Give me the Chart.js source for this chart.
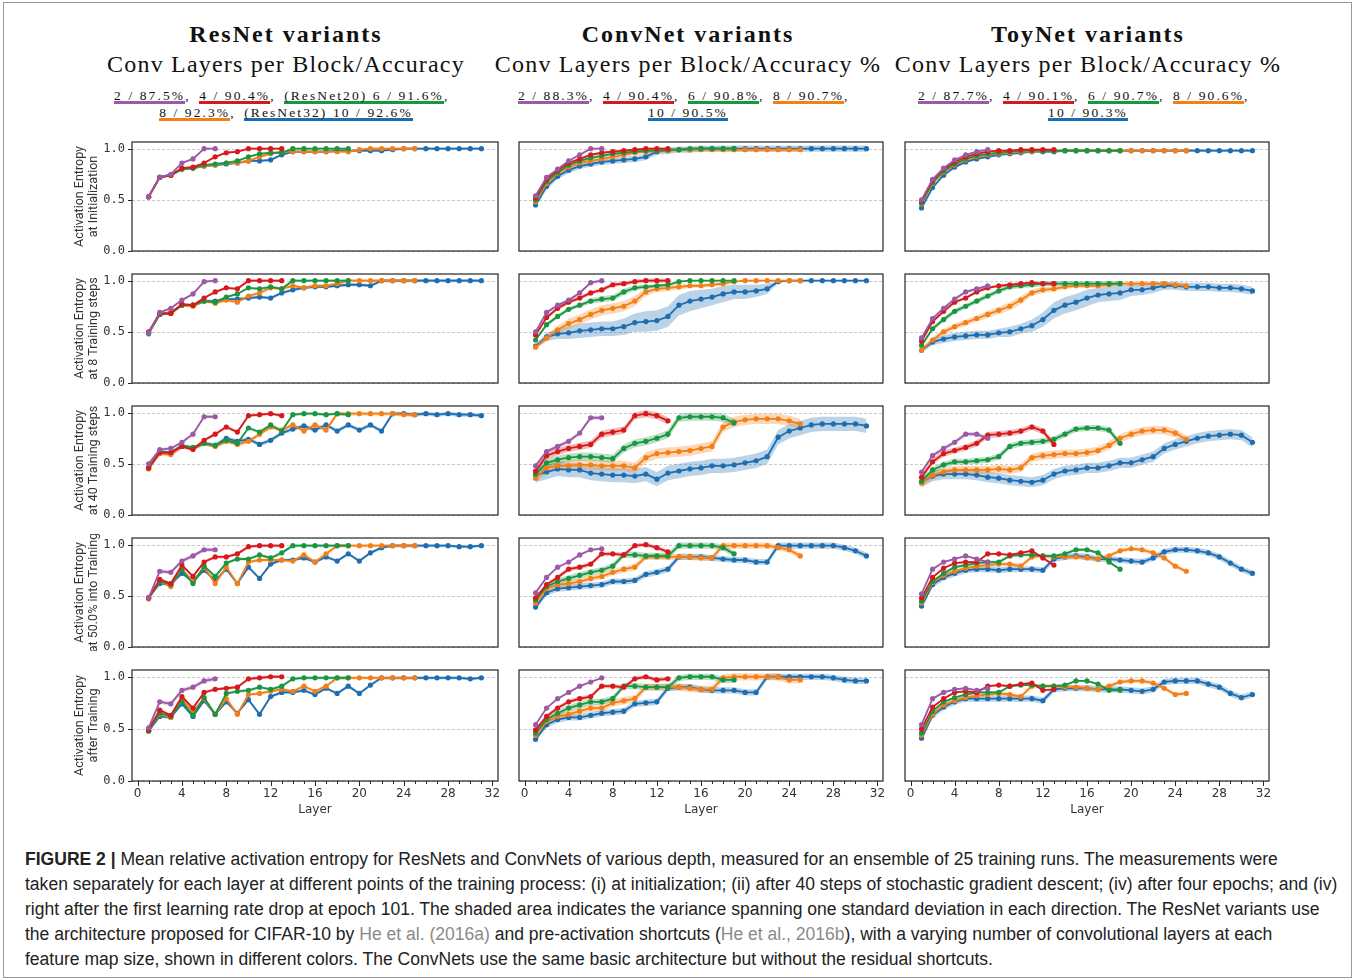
<!DOCTYPE html>
<html>
<head>
<meta charset="utf-8">
<script src="https://cdn.jsdelivr.net/npm/chart.js@4.4.1/dist/chart.umd.min.js"></script>
<style>
  body { margin: 0; background: #fff; }
  #fig { position: relative; width: 1356px; height: 980px; overflow: hidden; }
  .frame { position: absolute; left: 3px; top: 2px; width: 1347px; height: 974px; border: 1px solid #9a9a9a; }
  .hdr { position: absolute; width: 600px; text-align: center; font-family: "Liberation Serif", serif; color: #111; white-space: nowrap; }
  .t1 { font-size: 24px; font-weight: bold; letter-spacing: 2px; line-height: 30px; }
  .t2 { font-size: 24px; letter-spacing: 1.2px; line-height: 30px; }
  .leg { font-size: 13.5px; letter-spacing: 2.1px; line-height: 13px; }
  .leg span.item { display: inline-block; border-bottom: 3px solid; padding-bottom: 0px; line-height: 11px; }
  .leg span.sep { display: inline-block; width: 14px; text-align: left; letter-spacing: 0; }
  canvas { position: absolute; }
  .cap { position: absolute; left: 25px; top: 847px; font-family: "Liberation Sans", Arial, sans-serif; font-size: 17.55px; line-height: 25px; color: #222; white-space: nowrap; }
  .cap b { font-weight: bold; }
  .cap .ref { color: #8a8a8a; }
</style>
</head>
<body>
<div id="fig">
  <div class="frame"></div>
  <div class="cap">
    <b>FIGURE 2 |</b> Mean relative activation entropy for ResNets and ConvNets of various depth, measured for an ensemble of 25 training runs. The measurements were<br>
    taken separately for each layer at different points of the training process: (i) at initialization; (ii) after 40 steps of stochastic gradient descent; (iv) after four epochs; and (iv)<br>
    right after the first learning rate drop at epoch 101. The shaded area indicates the variance spanning one standard deviation in each direction. The ResNet variants use<br>
    the architecture proposed for CIFAR-10 by <span class="ref">He et al. (2016a)</span> and pre-activation shortcuts (<span class="ref">He et al., 2016b</span>), with a varying number of convolutional layers at each<br>
    feature map size, shown in different colors. The ConvNets use the same basic architecture but without the residual shortcuts.
  </div>
</div>
<script>
// conv layers per block, one series each
const depths = [2, 4, 6, 8, 10];
const colors = ["#9b59a6", "#d7191c", "#1a9641", "#f47f17", "#1f6db1"];

const colTitles = ["ResNet variants", "ConvNet variants", "ToyNet variants"];
const colSubtitles = ["Conv Layers per Block/Accuracy", "Conv Layers per Block/Accuracy %", "Conv Layers per Block/Accuracy %"];
const resLegend = ["2 / 87.5%", "4 / 90.4%", "(ResNet20) 6 / 91.6%", "8 / 92.3%", "(ResNet32) 10 / 92.6%"];
const convLegend = ["2 / 88.3%", "4 / 90.4%", "6 / 90.8%", "8 / 90.7%", "10 / 90.5%"];
const toyLegend = ["2 / 87.7%", "4 / 90.1%", "6 / 90.7%", "8 / 90.6%", "10 / 90.3%"];
const legendBreak = [3, 4, 4];

const rowLabels = [
  ["Activation Entropy", "at Initialization"],
  ["Activation Entropy", "at 8 Training steps"],
  ["Activation Entropy", "at 40 Training steps"],
  ["Activation Entropy", "at 50.0% into Training"],
  ["Activation Entropy", "after Training"],
];
const xTicks = [0, 4, 8, 12, 16, 20, 24, 28, 32];
const yTicks = [0.0, 0.5, 1.0];

// ---- at initialization ----
const resInit = [
  [0.53, 0.72, 0.75, 0.86, 0.90, 1.00, 1.00],
  [0.53, 0.72, 0.74, 0.81, 0.82, 0.86, 0.92, 0.96, 0.97, 1.00, 1.00, 1.00, 1.00],
  [0.53, 0.72, 0.74, 0.80, 0.81, 0.84, 0.85, 0.86, 0.88, 0.92, 0.95, 0.96, 0.96, 1.00, 1.00, 1.00, 1.00, 1.00, 1.00],
  [0.53, 0.72, 0.74, 0.80, 0.81, 0.83, 0.84, 0.86, 0.86, 0.88, 0.92, 0.95, 0.97, 0.97, 0.97, 0.97, 0.97, 0.97, 0.97, 0.99, 1.00, 1.00, 1.00, 1.00, 1.00],
  [0.53, 0.72, 0.74, 0.80, 0.81, 0.83, 0.84, 0.85, 0.86, 0.88, 0.88, 0.89, 0.94, 0.97, 0.97, 0.97, 0.97, 0.98, 0.98, 0.98, 0.98, 0.98, 0.99, 1.00, 1.00, 1.00, 1.00, 1.00, 1.00, 1.00, 1.00],
];
const convInit = [
  [0.54, 0.72, 0.80, 0.88, 0.94, 1.00, 1.00],
  [0.52, 0.70, 0.79, 0.86, 0.90, 0.94, 0.96, 0.97, 0.98, 0.99, 1.00, 1.00, 1.00],
  [0.50, 0.68, 0.77, 0.84, 0.88, 0.91, 0.93, 0.95, 0.96, 0.97, 0.98, 0.98, 0.99, 0.99, 1.00, 1.00, 1.00, 1.00, 1.00],
  [0.48, 0.66, 0.76, 0.82, 0.86, 0.88, 0.90, 0.92, 0.94, 0.96, 0.97, 0.98, 0.98, 0.99, 0.99, 0.99, 0.99, 0.99, 0.99, 0.99, 0.99, 0.99, 0.99, 0.99, 0.99],
  [0.45, 0.63, 0.73, 0.79, 0.83, 0.85, 0.87, 0.88, 0.89, 0.90, 0.92, 0.97, 0.98, 0.99, 0.99, 1.00, 1.00, 1.00, 1.00, 1.00, 1.00, 1.00, 1.00, 1.00, 1.00, 1.00, 1.00, 1.00, 1.00, 1.00, 1.00],
];
const toyInit = [
  [0.50, 0.70, 0.81, 0.89, 0.94, 0.97, 0.99],
  [0.49, 0.69, 0.80, 0.87, 0.92, 0.95, 0.97, 0.98, 0.98, 0.99, 0.99, 0.99, 0.99],
  [0.47, 0.67, 0.78, 0.85, 0.90, 0.93, 0.95, 0.96, 0.97, 0.98, 0.98, 0.98, 0.98, 0.98, 0.98, 0.98, 0.98, 0.98, 0.98],
  [0.46, 0.66, 0.77, 0.84, 0.89, 0.92, 0.94, 0.95, 0.96, 0.97, 0.97, 0.98, 0.98, 0.98, 0.98, 0.98, 0.98, 0.98, 0.98, 0.98, 0.98, 0.98, 0.98, 0.98, 0.98],
  [0.42, 0.62, 0.74, 0.82, 0.87, 0.90, 0.92, 0.94, 0.95, 0.96, 0.97, 0.97, 0.97, 0.98, 0.98, 0.98, 0.98, 0.98, 0.98, 0.98, 0.98, 0.98, 0.98, 0.98, 0.98, 0.98, 0.98, 0.98, 0.98, 0.98, 0.98],
];

// ---- at 8 training steps ----
const res8 = [
  [0.49, 0.69, 0.73, 0.81, 0.87, 0.99, 1.00],
  [0.50, 0.68, 0.68, 0.77, 0.76, 0.83, 0.89, 0.93, 0.92, 1.00, 1.00, 1.00, 1.00],
  [0.48, 0.67, 0.68, 0.76, 0.76, 0.80, 0.79, 0.84, 0.87, 0.93, 0.92, 0.94, 0.92, 1.00, 1.00, 1.00, 1.00, 1.00, 1.00],
  [0.49, 0.67, 0.69, 0.76, 0.75, 0.80, 0.78, 0.81, 0.79, 0.85, 0.88, 0.93, 0.92, 0.95, 0.93, 0.95, 0.95, 0.97, 1.00, 1.00, 1.00, 1.00, 1.00, 1.00, 1.00],
  [0.49, 0.67, 0.69, 0.76, 0.76, 0.80, 0.80, 0.82, 0.82, 0.83, 0.84, 0.83, 0.88, 0.91, 0.93, 0.94, 0.94, 0.95, 0.96, 0.96, 0.95, 1.00, 1.00, 1.00, 1.00, 1.00, 1.00, 1.00, 1.00, 1.00, 1.00],
];
const conv8 = [
  [0.50, 0.69, 0.76, 0.81, 0.88, 0.98, 1.00],
  [0.47, 0.64, 0.73, 0.79, 0.83, 0.88, 0.91, 0.96, 0.97, 0.99, 1.00, 1.00, 1.00],
  [0.42, 0.57, 0.65, 0.72, 0.76, 0.80, 0.82, 0.83, 0.89, 0.93, 0.94, 0.95, 0.96, 0.99, 1.00, 1.00, 1.00, 1.00, 1.00],
  [0.35, 0.44, 0.52, 0.58, 0.62, 0.67, 0.71, 0.73, 0.75, 0.80, 0.89, 0.92, 0.93, 0.94, 0.95, 0.95, 0.96, 0.97, 0.99, 1.00, 1.00, 1.00, 1.00, 1.00, 1.00],
  [0.36, 0.45, 0.48, 0.49, 0.51, 0.52, 0.53, 0.53, 0.55, 0.59, 0.60, 0.61, 0.65, 0.76, 0.80, 0.82, 0.84, 0.87, 0.89, 0.89, 0.90, 0.92, 0.99, 1.00, 1.00, 1.00, 1.00, 1.00, 1.00, 1.00, 1.00],
];
const toy8 = [
  [0.44, 0.63, 0.73, 0.82, 0.89, 0.92, 0.95],
  [0.41, 0.60, 0.70, 0.79, 0.83, 0.89, 0.93, 0.95, 0.96, 0.97, 0.98, 0.97, 0.97],
  [0.37, 0.53, 0.62, 0.70, 0.75, 0.80, 0.85, 0.90, 0.94, 0.95, 0.96, 0.97, 0.97, 0.97, 0.97, 0.97, 0.97, 0.97, 0.97],
  [0.32, 0.42, 0.50, 0.55, 0.59, 0.63, 0.67, 0.71, 0.75, 0.81, 0.88, 0.91, 0.92, 0.94, 0.95, 0.95, 0.95, 0.96, 0.97, 0.97, 0.97, 0.97, 0.97, 0.96, 0.95],
  [0.32, 0.40, 0.43, 0.45, 0.46, 0.47, 0.47, 0.49, 0.50, 0.53, 0.56, 0.62, 0.71, 0.76, 0.79, 0.83, 0.86, 0.87, 0.88, 0.91, 0.91, 0.93, 0.95, 0.95, 0.94, 0.94, 0.94, 0.93, 0.93, 0.92, 0.90],
];

// ---- at 40 training steps ----
const res40 = [
  [0.50, 0.64, 0.65, 0.71, 0.79, 0.96, 0.96],
  [0.46, 0.61, 0.61, 0.67, 0.64, 0.73, 0.79, 0.86, 0.81, 0.97, 0.98, 0.99, 0.97],
  [0.46, 0.62, 0.61, 0.68, 0.66, 0.70, 0.68, 0.73, 0.70, 0.85, 0.81, 0.88, 0.82, 0.98, 0.99, 0.99, 0.98, 0.99, 0.98],
  [0.45, 0.60, 0.59, 0.67, 0.65, 0.70, 0.67, 0.72, 0.69, 0.72, 0.79, 0.86, 0.83, 0.88, 0.82, 0.88, 0.83, 0.99, 0.99, 0.99, 0.99, 0.99, 0.99, 0.98, 0.98],
  [0.46, 0.61, 0.60, 0.67, 0.65, 0.70, 0.68, 0.75, 0.72, 0.74, 0.69, 0.73, 0.80, 0.84, 0.87, 0.83, 0.88, 0.82, 0.88, 0.83, 0.88, 0.82, 0.99, 0.99, 0.98, 0.99, 0.98, 0.99, 0.98, 0.98, 0.97],
];
const conv40 = [
  [0.48, 0.62, 0.67, 0.72, 0.80, 0.95, 0.95],
  [0.43, 0.58, 0.62, 0.65, 0.67, 0.69, 0.79, 0.81, 0.83, 0.97, 0.99, 0.97, 0.92],
  [0.40, 0.51, 0.54, 0.56, 0.57, 0.57, 0.56, 0.55, 0.65, 0.70, 0.72, 0.75, 0.79, 0.95, 0.96, 0.96, 0.96, 0.95, 0.90],
  [0.36, 0.46, 0.48, 0.48, 0.49, 0.49, 0.48, 0.48, 0.48, 0.46, 0.56, 0.60, 0.61, 0.62, 0.63, 0.65, 0.67, 0.86, 0.91, 0.93, 0.94, 0.94, 0.94, 0.92, 0.89],
  [0.39, 0.42, 0.45, 0.44, 0.44, 0.41, 0.40, 0.39, 0.39, 0.38, 0.40, 0.35, 0.41, 0.43, 0.45, 0.46, 0.48, 0.48, 0.49, 0.51, 0.53, 0.57, 0.76, 0.82, 0.85, 0.88, 0.89, 0.89, 0.89, 0.89, 0.87],
];
const toy40 = [
  [0.42, 0.58, 0.65, 0.71, 0.79, 0.79, 0.75],
  [0.37, 0.52, 0.60, 0.63, 0.66, 0.70, 0.78, 0.79, 0.80, 0.82, 0.86, 0.82, 0.69],
  [0.33, 0.44, 0.49, 0.52, 0.52, 0.53, 0.54, 0.57, 0.67, 0.70, 0.71, 0.72, 0.74, 0.79, 0.84, 0.85, 0.85, 0.83, 0.70],
  [0.31, 0.39, 0.42, 0.44, 0.44, 0.44, 0.44, 0.45, 0.44, 0.46, 0.56, 0.58, 0.59, 0.60, 0.60, 0.61, 0.63, 0.68, 0.75, 0.79, 0.82, 0.83, 0.83, 0.80, 0.74],
  [0.32, 0.38, 0.40, 0.40, 0.40, 0.39, 0.37, 0.36, 0.34, 0.33, 0.32, 0.34, 0.40, 0.43, 0.44, 0.46, 0.46, 0.48, 0.51, 0.51, 0.54, 0.57, 0.65, 0.69, 0.72, 0.75, 0.77, 0.78, 0.79, 0.78, 0.71],
];

// ---- at 50% into training ----
const res50 = [
  [0.48, 0.74, 0.73, 0.84, 0.89, 0.95, 0.95],
  [0.48, 0.66, 0.62, 0.80, 0.69, 0.83, 0.88, 0.88, 0.91, 0.98, 0.99, 0.99, 0.99],
  [0.48, 0.64, 0.61, 0.75, 0.62, 0.79, 0.69, 0.82, 0.86, 0.86, 0.90, 0.87, 0.92, 0.99, 0.99, 0.99, 0.99, 0.99, 0.99],
  [0.47, 0.64, 0.59, 0.76, 0.64, 0.78, 0.62, 0.78, 0.62, 0.83, 0.85, 0.85, 0.85, 0.84, 0.90, 0.83, 0.91, 0.99, 0.99, 0.99, 0.99, 0.99, 0.99, 0.99, 0.99],
  [0.48, 0.62, 0.61, 0.72, 0.64, 0.75, 0.65, 0.76, 0.62, 0.78, 0.67, 0.81, 0.85, 0.85, 0.87, 0.83, 0.88, 0.84, 0.91, 0.84, 0.92, 0.97, 0.99, 0.99, 0.99, 0.99, 0.99, 0.99, 0.98, 0.98, 0.99],
];
const conv50 = [
  [0.53, 0.68, 0.78, 0.83, 0.90, 0.95, 0.96],
  [0.48, 0.61, 0.68, 0.76, 0.78, 0.81, 0.91, 0.91, 0.90, 0.99, 1.00, 0.97, 0.93],
  [0.46, 0.59, 0.64, 0.67, 0.70, 0.73, 0.75, 0.79, 0.90, 0.90, 0.89, 0.89, 0.89, 0.99, 0.99, 0.99, 0.99, 0.97, 0.91],
  [0.43, 0.57, 0.61, 0.62, 0.64, 0.67, 0.69, 0.73, 0.76, 0.78, 0.88, 0.88, 0.88, 0.88, 0.88, 0.87, 0.87, 0.99, 0.99, 0.99, 0.99, 0.99, 0.97, 0.95, 0.89],
  [0.39, 0.53, 0.57, 0.58, 0.59, 0.60, 0.61, 0.64, 0.64, 0.65, 0.71, 0.73, 0.76, 0.88, 0.88, 0.88, 0.87, 0.86, 0.85, 0.85, 0.83, 0.83, 0.99, 0.99, 0.99, 0.99, 0.99, 0.99, 0.97, 0.94, 0.89],
];
const toy50 = [
  [0.52, 0.76, 0.83, 0.86, 0.89, 0.86, 0.83],
  [0.48, 0.68, 0.77, 0.82, 0.83, 0.83, 0.91, 0.91, 0.90, 0.92, 0.94, 0.87, 0.80],
  [0.45, 0.64, 0.72, 0.78, 0.80, 0.82, 0.83, 0.83, 0.89, 0.90, 0.90, 0.89, 0.89, 0.91, 0.95, 0.95, 0.92, 0.83, 0.76],
  [0.43, 0.63, 0.70, 0.74, 0.77, 0.79, 0.80, 0.81, 0.81, 0.79, 0.88, 0.89, 0.88, 0.88, 0.88, 0.87, 0.86, 0.89, 0.94, 0.96, 0.95, 0.92, 0.87, 0.79, 0.74],
  [0.40, 0.61, 0.68, 0.72, 0.75, 0.76, 0.76, 0.75, 0.76, 0.76, 0.76, 0.75, 0.86, 0.88, 0.89, 0.88, 0.86, 0.86, 0.85, 0.84, 0.83, 0.87, 0.93, 0.95, 0.95, 0.94, 0.92, 0.88, 0.82, 0.76, 0.72],
];

// ---- after training ----
const resAfter = [
  [0.51, 0.76, 0.74, 0.87, 0.90, 0.96, 0.98],
  [0.49, 0.68, 0.63, 0.81, 0.70, 0.85, 0.88, 0.89, 0.90, 0.98, 0.99, 1.00, 1.00],
  [0.48, 0.65, 0.62, 0.76, 0.63, 0.80, 0.64, 0.84, 0.86, 0.87, 0.90, 0.88, 0.91, 0.98, 0.99, 0.99, 0.99, 0.99, 0.99],
  [0.48, 0.64, 0.61, 0.78, 0.67, 0.79, 0.64, 0.79, 0.64, 0.83, 0.84, 0.86, 0.88, 0.86, 0.91, 0.86, 0.91, 0.99, 0.99, 0.99, 0.99, 0.99, 0.99, 0.99, 0.99],
  [0.48, 0.62, 0.61, 0.74, 0.62, 0.77, 0.64, 0.76, 0.65, 0.78, 0.64, 0.81, 0.85, 0.85, 0.87, 0.83, 0.89, 0.84, 0.91, 0.84, 0.92, 0.99, 0.99, 0.99, 0.99, 0.99, 0.99, 0.99, 0.99, 0.98, 0.99],
];
const convAfter = [
  [0.54, 0.70, 0.79, 0.85, 0.91, 0.95, 0.99],
  [0.49, 0.62, 0.70, 0.76, 0.79, 0.81, 0.91, 0.91, 0.90, 0.98, 1.00, 0.97, 0.98],
  [0.46, 0.59, 0.65, 0.70, 0.73, 0.76, 0.76, 0.79, 0.91, 0.91, 0.90, 0.90, 0.90, 0.99, 1.00, 1.00, 1.00, 0.97, 0.97],
  [0.44, 0.57, 0.62, 0.64, 0.67, 0.70, 0.70, 0.75, 0.77, 0.79, 0.90, 0.90, 0.90, 0.90, 0.89, 0.88, 0.88, 0.99, 1.00, 1.00, 1.00, 1.00, 1.00, 0.97, 0.97],
  [0.40, 0.54, 0.59, 0.61, 0.61, 0.63, 0.65, 0.66, 0.67, 0.74, 0.75, 0.76, 0.89, 0.90, 0.90, 0.88, 0.87, 0.87, 0.87, 0.85, 0.85, 1.00, 1.00, 1.00, 1.00, 1.00, 1.00, 0.99, 0.97, 0.96, 0.96],
];
const toyAfter = [
  [0.54, 0.79, 0.85, 0.88, 0.89, 0.87, 0.89],
  [0.50, 0.71, 0.79, 0.85, 0.86, 0.85, 0.91, 0.92, 0.91, 0.93, 0.94, 0.87, 0.88],
  [0.46, 0.67, 0.76, 0.80, 0.83, 0.85, 0.85, 0.85, 0.91, 0.92, 0.92, 0.91, 0.91, 0.92, 0.96, 0.96, 0.93, 0.87, 0.87],
  [0.44, 0.64, 0.73, 0.77, 0.80, 0.82, 0.83, 0.84, 0.83, 0.81, 0.91, 0.91, 0.91, 0.90, 0.90, 0.89, 0.88, 0.91, 0.95, 0.96, 0.96, 0.94, 0.89, 0.83, 0.84],
  [0.41, 0.63, 0.71, 0.76, 0.79, 0.79, 0.79, 0.79, 0.79, 0.79, 0.79, 0.77, 0.88, 0.89, 0.89, 0.89, 0.88, 0.88, 0.88, 0.87, 0.86, 0.88, 0.95, 0.96, 0.96, 0.96, 0.93, 0.90, 0.84, 0.80, 0.83],
];

// one standard deviation (estimated band half-width): a number per series,
// or a per-layer list where the band visibly changes width
const conv8GreenSd = [0.015, 0.02, 0.02, 0.02, 0.02, 0.025, 0.03, 0.03, 0.03, 0.025, 0.02, 0.015, 0.01, 0.01, 0.005, 0.005, 0.005, 0.005, 0.005];
const conv8OrangeSd = [0.02, 0.03, 0.04, 0.05, 0.05, 0.05, 0.05, 0.05, 0.05, 0.05, 0.04, 0.03, 0.03, 0.03, 0.02, 0.02, 0.02, 0.02, 0.01, 0.005, 0.005, 0.005, 0.005, 0.005, 0.005];
const conv8BlueSd = [0.02, 0.04, 0.05, 0.06, 0.07, 0.07, 0.07, 0.07, 0.08, 0.09, 0.10, 0.10, 0.10, 0.10, 0.10, 0.09, 0.08, 0.08, 0.07, 0.07, 0.06, 0.05, 0.01, 0.005, 0.005, 0.005, 0.005, 0.005, 0.005, 0.005, 0.005];
const toy8OrangeSd = [0.02, 0.03, 0.03, 0.03, 0.03, 0.03, 0.035, 0.035, 0.04, 0.04, 0.03, 0.03, 0.025, 0.02, 0.02, 0.02, 0.02, 0.02, 0.02, 0.02, 0.02, 0.02, 0.02, 0.02, 0.02];
const toy8BlueSd = [0.02, 0.03, 0.04, 0.04, 0.04, 0.04, 0.04, 0.04, 0.05, 0.05, 0.06, 0.07, 0.08, 0.08, 0.08, 0.08, 0.07, 0.07, 0.07, 0.06, 0.05, 0.05, 0.04, 0.04, 0.04, 0.04, 0.04, 0.04, 0.04, 0.04, 0.04];

const sdInit = [[0.01, 0.01, 0.01, 0.012, 0.012], [0.01, 0.012, 0.015, 0.02, 0.03], [0.008, 0.008, 0.01, 0.01, 0.012]];
const sd8 = [[0.012, 0.012, 0.012, 0.015, 0.015], [0.015, 0.02, conv8GreenSd, conv8OrangeSd, conv8BlueSd], [0.015, 0.015, 0.025, toy8OrangeSd, toy8BlueSd]];
const sd40 = [[0.015, 0.015, 0.015, 0.02, 0.02], [0.02, 0.035, 0.04, 0.05, 0.07], [0.02, 0.03, 0.03, 0.04, 0.05]];
const sd50 = [[0.02, 0.015, 0.015, 0.015, 0.015], [0.01, 0.02, 0.03, 0.03, 0.03], [0.01, 0.01, 0.015, 0.02, 0.03]];
const sdAfter = [[0.02, 0.015, 0.015, 0.015, 0.015], [0.01, 0.02, 0.03, 0.035, 0.03], [0.01, 0.01, 0.01, 0.02, 0.03]];

const panels = [
  [resInit, convInit, toyInit],
  [res8, conv8, toy8],
  [res40, conv40, toy40],
  [res50, conv50, toy50],
  [resAfter, convAfter, toyAfter],
];
const spreads = [sdInit, sd8, sd40, sd50, sdAfter];
const legends = [resLegend, convLegend, toyLegend];

// layout (px)
const colLeft = [132, 517, 903];
const headCenter = [286, 688, 1088];
const rowTop = [140, 272, 404, 536, 668];
const boxW = 368, boxH = 113;

const fig = document.getElementById("fig");

function rgba(hex, a) {
  const n = parseInt(hex.slice(1), 16);
  return `rgba(${(n >> 16) & 255},${(n >> 8) & 255},${n & 255},${a})`;
}

// headers + legends
colTitles.forEach((t, c) => {
  const mk = (cls, top, html) => {
    const d = document.createElement("div");
    d.className = "hdr " + cls;
    d.style.left = (headCenter[c] - 300) + "px";
    d.style.top = top + "px";
    d.innerHTML = html;
    fig.appendChild(d);
  };
  mk("t1", 19, t);
  mk("t2", 49, colSubtitles[c]);
  const labs = legends[c];
  const item = (i) => `<span class="item" style="border-color:${colors[i]}">${labs[i]}</span>` +
    (i < labs.length - 1 ? '<span class="sep">,</span>' : "");
  let l1 = "", l2 = "";
  labs.forEach((_, i) => { if (i < legendBreak[c]) l1 += item(i); else l2 += item(i); });
  mk("leg", 89, l1);
  mk("leg", 106, l2);
});

// grid, frame, ticks and axis text drawn against the chart's own scales
const framePlugin = {
  id: "frame",
  beforeDatasetsDraw(chart) {
    const { ctx, chartArea: a, scales } = chart;
    ctx.save();
    ctx.strokeStyle = "#c9c9c9";
    ctx.lineWidth = 1;
    ctx.setLineDash([3, 2]);
    yTicks.forEach(v => {
      const y = Math.round(scales.y.getPixelForValue(v)) + 0.5;
      ctx.beginPath(); ctx.moveTo(a.left, y); ctx.lineTo(a.right, y); ctx.stroke();
    });
    ctx.restore();
  },
  afterDatasetsDraw(chart, args, opts) {
    const { ctx, chartArea: a, scales } = chart;
    ctx.save();
    ctx.strokeStyle = "#262626";
    ctx.lineWidth = 1.2;
    ctx.strokeRect(a.left, a.top, a.right - a.left, a.bottom - a.top);
    ctx.lineWidth = 1;
    ctx.fillStyle = "#333";
    if (opts.bottom) {
      for (let v = 0; v <= 32; v++) {
        const x = Math.round(scales.x.getPixelForValue(v)) + 0.5;
        const len = v % 4 === 0 ? 5 : 3;
        ctx.beginPath(); ctx.moveTo(x, a.bottom); ctx.lineTo(x, a.bottom + len); ctx.stroke();
      }
      ctx.font = "12px 'DejaVu Sans'";
      ctx.textAlign = "center";
      ctx.textBaseline = "middle";
      xTicks.forEach(v => ctx.fillText(String(v), scales.x.getPixelForValue(v), a.bottom + 13));
      ctx.fillText("Layer", (a.left + a.right) / 2, a.bottom + 29);
    }
    if (opts.left) {
      yTicks.forEach(v => {
        const y = Math.round(scales.y.getPixelForValue(v)) + 0.5;
        ctx.beginPath(); ctx.moveTo(a.left - 4, y); ctx.lineTo(a.left, y); ctx.stroke();
      });
      ctx.font = "12px 'DejaVu Sans Mono'";
      ctx.textAlign = "right";
      ctx.textBaseline = "middle";
      yTicks.forEach(v => ctx.fillText(v.toFixed(1), a.left - 7, scales.y.getPixelForValue(v)));
      ctx.save();
      ctx.translate(a.left - 52, (a.top + a.bottom) / 2);
      ctx.rotate(-Math.PI / 2);
      ctx.font = "12.5px Roboto";
      ctx.textAlign = "center";
      opts.title.forEach((line, k) => ctx.fillText(line, 0, k * 13.5));
      ctx.restore();
    }
    ctx.restore();
  },
};

const sdAt = (sd, i) => (Array.isArray(sd) ? sd[i] : sd);

panels.forEach((rowPanels, r) => {
  rowPanels.forEach((series, c) => {
    const bottom = r === panels.length - 1;
    const left = c === 0;
    const L = left ? 76 : 2, T = 2, R = 2, B = bottom ? 40 : 2;
    const cv = document.createElement("canvas");
    cv.width = L + boxW + R;
    cv.height = T + boxH + B;
    cv.style.left = (colLeft[c] - L) + "px";
    cv.style.top = (rowTop[r] - T) + "px";
    fig.appendChild(cv);

    const sd = spreads[r][c];
    const datasets = [];
    series.forEach((vals, s) => {
      datasets.push({
        data: vals.map((v, i) => ({ x: i + 1, y: v + sdAt(sd[s], i) })),
        fill: "+1", backgroundColor: rgba(colors[s], 0.3),
        borderWidth: 0, pointRadius: 0, order: 10 + s,
      });
      datasets.push({
        data: vals.map((v, i) => ({ x: i + 1, y: v - sdAt(sd[s], i) })),
        fill: false, borderWidth: 0, pointRadius: 0, order: 10 + s,
      });
    });
    series.forEach((vals, s) => {
      datasets.push({
        label: depths[s] + " layers",
        data: vals.map((v, i) => ({ x: i + 1, y: v })),
        borderColor: colors[s], backgroundColor: colors[s],
        borderWidth: 1.8, pointRadius: 2.6, pointBorderWidth: 0,
        pointBackgroundColor: colors[s], fill: false, tension: 0, order: s,
      });
    });

    new Chart(cv, {
      type: "line",
      data: { datasets },
      options: {
        responsive: false, animation: false,
        layout: { padding: { top: T, right: R, left: L, bottom: B } },
        plugins: {
          legend: { display: false }, tooltip: { enabled: false },
          frame: { bottom, left, title: rowLabels[r] },
        },
        scales: {
          x: { type: "linear", min: -0.5, max: 32.5, display: false },
          y: { min: 0, max: 1.065, display: false },
        },
      },
      plugins: [framePlugin],
    });
  });
});
</script>
</body>
</html>
